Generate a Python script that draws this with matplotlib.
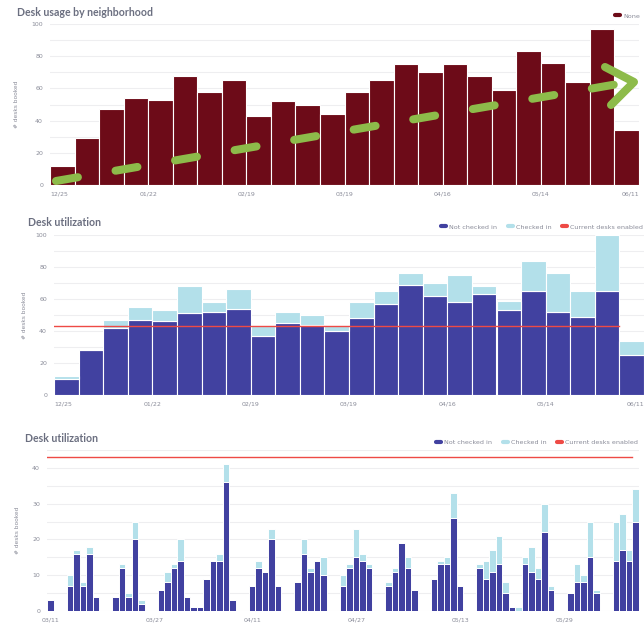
import numpy as np
import matplotlib
matplotlib.use('Agg')
import matplotlib.pyplot as plt
from matplotlib.lines import Line2D

plt.rcParams['font.family'] = ['DejaVu Sans']
plt.rcParams['lines.scale_dashes'] = False

W, H = 644, 625

# ---- weekly data (weeks starting 12/25) ----
week_ticks = ['12/25', '01/22', '02/19', '03/19', '04/16', '05/14', '06/11']
usage_total = [12, 29, 47, 54, 53, 68, 58, 65, 43, 52, 50, 44,
               58, 65, 75, 70, 75, 68, 59, 83, 76, 64, 97, 34]
week_not_checked = [10, 28, 42, 47, 46, 51, 52, 54, 37, 45, 44, 40,
                    48, 57, 69, 62, 58, 63, 53, 65, 52, 49, 65, 25]
week_checked = [2, 1, 5, 8, 7, 17, 6, 12, 6, 7, 6, 4,
                10, 8, 7, 8, 17, 5, 6, 19, 24, 16, 35, 9]
desks_enabled = 43

# ---- daily data (03/11 .. 06/09) ----
day_ticks = ['03/11', '03/27', '04/11', '04/27', '05/13', '05/29']
day_tick_idx = [0, 16, 31, 47, 63, 79]
day_not_checked = [3, 0, 0, 7, 16, 7, 16, 4, 0, 0,
                   4, 12, 4, 20, 2, 0, 0, 6, 8, 12,
                   14, 4, 1, 1, 9, 14, 14, 36, 3, 0,
                   0, 7, 12, 11, 20, 7, 0, 0, 8, 16,
                   11, 14, 10, 0, 0, 7, 12, 15, 14, 12,
                   0, 0, 7, 11, 19, 12, 6, 0, 0, 9,
                   13, 13, 26, 7, 0, 0, 12, 9, 11, 13,
                   5, 1, 0, 13, 11, 9, 22, 6, 0, 0,
                   5, 8, 8, 15, 5, 0, 0, 14, 17, 14, 25]
day_checked = [0, 0, 0, 3, 1, 1, 2, 0, 0, 0,
               0, 1, 1, 5, 1, 0, 0, 0, 3, 1,
               6, 0, 0, 0, 0, 0, 2, 5, 0, 0,
               0, 0, 2, 0, 3, 0, 0, 0, 0, 4,
               1, 0, 5, 0, 0, 3, 1, 8, 2, 1,
               0, 0, 1, 1, 0, 3, 0, 0, 0, 0,
               1, 2, 7, 0, 0, 0, 1, 5, 6, 8,
               3, 0, 1, 2, 7, 3, 8, 1, 0, 0,
               0, 5, 2, 10, 1, 0, 0, 11, 10, 3, 9]

maroon = '#6d0b18'
navy = '#4141a0'
light = '#b3e0ea'
red = '#ee4a45'
green = '#8dbb4a'
title_c = '#6b6f80'
tick_c = '#8a8c99'


def fx(px):
    return px / W


def fy(py):
    return 1 - py / H


def add_ax(fig, left, right, top, bottom):
    return fig.add_axes([fx(left), fy(bottom), fx(right) - fx(left), fy(top) - fy(bottom)])


def style(ax, ymax, major, minor, ylabel_x):
    ax.set_ylim(0, ymax)
    ax.set_yticks(np.arange(0, ymax + 0.1, major))
    ax.set_yticks(np.arange(0, ymax + 0.1, minor), minor=True)
    ax.grid(True, axis='y', which='both', color='#eeeef0', lw=0.8)
    ax.set_axisbelow(True)
    for s in ax.spines.values():
        s.set_visible(False)
    ax.tick_params(which='both', length=0, labelsize=4.5, labelcolor=tick_c, pad=5)
    ax.set_ylabel('# desks booked', fontsize=4.2, color=tick_c)
    ax.yaxis.set_label_coords(ylabel_x, 0.5)


def legend(fig, handles, labels, x, y):
    fig.legend(handles, labels, loc='center right', bbox_to_anchor=(fx(x), fy(y)),
               frameon=False, ncol=len(labels), fontsize=4.6, labelcolor=tick_c,
               handlelength=0.8, handletextpad=0.5, columnspacing=1.6,
               borderpad=0, borderaxespad=0)


def handle(c):
    return Line2D([], [], color=c, lw=3, solid_capstyle='round')


def title(fig, px, py, txt):
    fig.text(fx(px), fy(py), txt, fontsize=7.6, color=title_c, family=['Lato', 'DejaVu Sans'],
             fontweight='bold', va='center')


fig = plt.figure(figsize=(W / 100, H / 100), dpi=100)

# ---------- top: desk usage by neighborhood ----------
ax1 = add_ax(fig, 50, 639, 24, 185)
x = np.arange(len(usage_total))
ax1.bar(x, usage_total, width=1, align='edge', color=maroon, edgecolor='white', lw=0.8)
ax1.set_xlim(0, len(usage_total))
style(ax1, 100, 20, 10, -0.052)
ax1.set_xticks(np.arange(0, len(usage_total) + 1, 4))
ax1.set_xticklabels(week_ticks)
title(fig, 17, 12, 'Desk usage by neighborhood')
legend(fig, [handle(maroon)], ['None'], 640, 16)

# ---------- middle: weekly desk utilization ----------
ax2 = add_ax(fig, 54, 644, 235, 395)
x = np.arange(len(week_not_checked))
ax2.bar(x, week_not_checked, width=1, align='edge', color=navy, edgecolor='white', lw=0.8)
ax2.bar(x, week_checked, width=1, align='edge', bottom=week_not_checked,
        color=light, edgecolor='white', lw=0.8)
ax2.plot([x[0], x[-1]], [desks_enabled, desks_enabled], color=red, lw=1)
ax2.set_xlim(0, len(week_not_checked))
style(ax2, 100, 20, 10, -0.045)
ax2.set_xticks(np.arange(0, len(week_not_checked) + 1, 4))
ax2.set_xticklabels(week_ticks)
title(fig, 28, 223, 'Desk utilization')
legend(fig, [handle(navy), handle(light), handle(red)],
       ['Not checked in', 'Checked in', 'Current desks enabled'], 643, 227)

# ---------- bottom: daily desk utilization ----------
ax3 = add_ax(fig, 47, 638.5, 450, 611)
x = np.arange(len(day_not_checked))
ax3.bar(x, day_not_checked, width=1, align='edge', color=navy, edgecolor='white', lw=0.7)
ax3.bar(x, day_checked, width=1, align='edge', bottom=day_not_checked,
        color=light, edgecolor='white', lw=0.7)
ax3.plot([x[0], x[-1]], [desks_enabled, desks_enabled], color=red, lw=1)
ax3.set_xlim(0, len(day_not_checked))
style(ax3, 45, 10, 5, -0.045)
ax3.set_xticks(np.array(day_tick_idx) + 0.6)
ax3.set_xticklabels(day_ticks)
title(fig, 25, 438, 'Desk utilization')
legend(fig, [handle(navy), handle(light), handle(red)],
       ['Not checked in', 'Checked in', 'Current desks enabled'], 638, 442)

for lbls in (ax1.get_xticklabels(), ax2.get_xticklabels()):
    lbls[0].set_ha('left')
    lbls[-1].set_ha('right')

# ---------- hand-drawn green trend arrow over the top chart ----------
arrow_x = [56, 618]
arrow_y = [181, 84]
fig.add_artist(Line2D([fx(v) for v in arrow_x], [fy(v) for v in arrow_y],
                      color=green, lw=5.8, solid_capstyle='round', dash_capstyle='round',
                      dashes=(16, 27.5)))
head_x = [605, 634, 611]
head_y = [67, 82, 105]
fig.add_artist(Line2D([fx(v) for v in head_x], [fy(v) for v in head_y],
                      color=green, lw=5.8, solid_capstyle='round', solid_joinstyle='round'))

fig.savefig('out.png', dpi=100)
